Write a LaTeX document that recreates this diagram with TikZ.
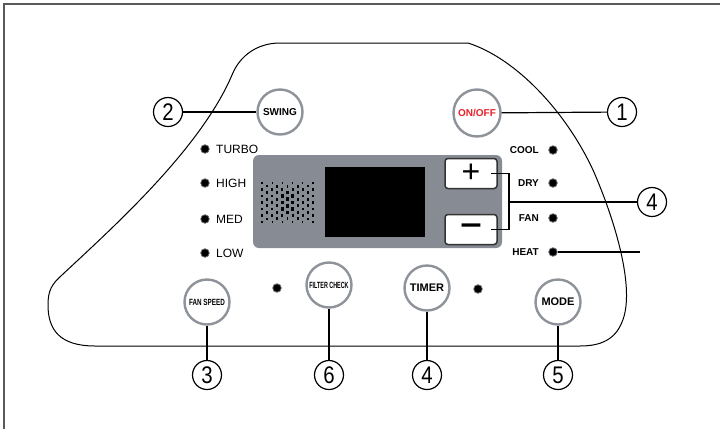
\documentclass[tikz,border=0pt]{standalone}
\usepackage{fontspec}
\setmainfont{Liberation Sans}
\usetikzlibrary{positioning}
\definecolor{rimgray}{HTML}{8E9299}
\definecolor{screengray}{HTML}{878B93}
\definecolor{framegray}{HTML}{5A5A5A}
\definecolor{powerred}{HTML}{E8202A}
\newcommand{\narrowtxt}[2]{\scalebox{#1}[1]{#2}}

\begin{document}
\begin{tikzpicture}[x=1pt, y=-1pt,
    button/.style={circle, draw=rimgray, fill=white, line width=2.4pt, minimum size=45pt, inner sep=0pt, font=\fontsize{10}{10}\selectfont\bfseries},
    callout/.style={circle, draw=black, fill=white, line width=1.2pt, minimum size=29pt, inner sep=0pt, font=\fontsize{24}{24}\selectfont},
    led/.style={circle, fill=black, draw=rimgray!70!black, line width=0.8pt, minimum size=8.5pt, inner sep=0pt},
    ledtext/.style={font=\fontsize{12}{12}\selectfont},
    modetext/.style={font=\fontsize{10}{10}\selectfont\bfseries},
    keybox/.style={draw=black!80, fill=white, line width=1.5pt, rounded corners=3pt, minimum width=52pt, minimum height=30pt, inner sep=0pt},
    lead/.style={line width=1.2pt}
]
\useasboundingbox (0,0) rectangle (720,429);
\draw[framegray, line width=1.5pt] (720,4) -- (4,4) -- (4,429);

% panel outline
\draw[line width=1pt] (280,43) -- (468,43)
    .. controls (515,58) and (565,110) .. (593,170)
    .. controls (615,220) and (636,290) .. (622,322)
    .. controls (615,340) and (600,346) .. (580,346)
    -- (95,346)
    .. controls (60,346) and (48,330) .. (48,305)
    .. controls (48,290) and (52,284) .. (62,275)
    .. controls (110,230) and (200,150) .. (232,75)
    .. controls (240,55) and (258,43) .. (280,43) -- cycle;

% display
\node[fill=screengray, rounded corners=6pt, minimum width=249pt, minimum height=93pt, inner sep=0pt](screen) at (377.5,201.5){};
\node[fill=black, minimum width=100pt, minimum height=70pt, inner sep=0pt](lcd) at (375,202){};
% speaker holes
\foreach \i in {0,...,10}{
  \foreach \j in {0,...,6}{
    \pgfmathsetmacro{\holex}{262+\i*5.1}
    \pgfmathsetmacro{\holey}{183+\j*6.5+mod(\i,2)*3.25}
    \pgfmathsetmacro{\holef}{max(0,1-sqrt(((\i-5)/6)^2+((\holey-202)/26)^2))}
    \pgfmathsetmacro{\holew}{1.2+1.5*\holef}
    \pgfmathsetmacro{\holeh}{2+2.2*\holef}
    \ifdim\holey pt<223pt
      \fill[black] (\holex-\holew/2,\holey-\holeh/2) rectangle ++(\holew,\holeh);
    \fi
  }
}
\node[keybox, font=\fontsize{32}{32}\selectfont](plusk) at (471,173.5){+};
\node[keybox, font=\fontsize{30}{30}\selectfont\bfseries](minusk) at (471,229.5){\narrowtxt{1.25}{−}};

% buttons
\node[button](swing) at (280,112){SWING};
\node[button, minimum size=47pt, text=powerred](onoff) at (477,113){ON/OFF};
\node[button, font=\fontsize{9}{9}\selectfont\bfseries](fanspeed) at (207,302){\narrowtxt{0.7}{FAN SPEED}};
\node[button, font=\fontsize{9}{9}\selectfont\bfseries](filter) at (329,285){\narrowtxt{0.6}{FILTER CHECK}};
\node[button, font=\fontsize{11}{11}\selectfont\bfseries](timer) at (427,288){TIMER};
\node[button, font=\fontsize{11}{11}\selectfont\bfseries](mode) at (558,302){MODE};

% indicator lights
\node[led, label={[ledtext, label distance=3pt]right:TURBO}](turbo) at (205,149){};
\node[led, label={[ledtext, label distance=3pt]right:HIGH}](high) at (205,183){};
\node[led, label={[ledtext, label distance=3pt]right:MED}](med) at (205,219){};
\node[led, label={[ledtext, label distance=3pt]right:LOW}](low) at (205,253){};
\node[led, label={[modetext, label distance=6pt]left:COOL}](cool) at (553,150){};
\node[led, label={[modetext, label distance=6pt]left:DRY}](dry) at (553,183){};
\node[led, label={[modetext, label distance=6pt]left:FAN}](fan) at (553,218){};
\node[led, label={[modetext, label distance=6pt]left:HEAT}](heat) at (553,252){};
\node[led](filterled) at (277,288){};
\node[led](timerled) at (478,289){};

% callouts
\node[callout](c1) at (622,112){\narrowtxt{0.85}{1}};
\node[callout](c2) at (168,112){\narrowtxt{0.85}{2}};
\node[callout](c4a) at (652,202){\narrowtxt{0.85}{4}};
\node[callout](c3) at (207,375){\narrowtxt{0.85}{3}};
\node[callout](c6) at (329,375){\narrowtxt{0.85}{6}};
\node[callout](c4b) at (427,375){\narrowtxt{0.85}{4}};
\node[callout](c5) at (558,375){\narrowtxt{0.85}{5}};
\coordinate (brk) at (509,202);
\coordinate (heatend) at (640,252);

\draw[lead] (c2) -- (swing);
\draw[lead] (onoff) -- (c1);
\draw[lead] ([xshift=20pt]plusk.center) -| (brk) |- ([xshift=20pt]minusk.center);
\draw[lead] (brk) -- (c4a);
\draw[lead] (heat) -- (heatend);
\draw[lead] (fanspeed) -- (c3);
\draw[lead] (filter) -- (c6);
\draw[lead] (timer) -- (c4b);
\draw[lead] (mode) -- (c5);
\end{tikzpicture}
\end{document}
